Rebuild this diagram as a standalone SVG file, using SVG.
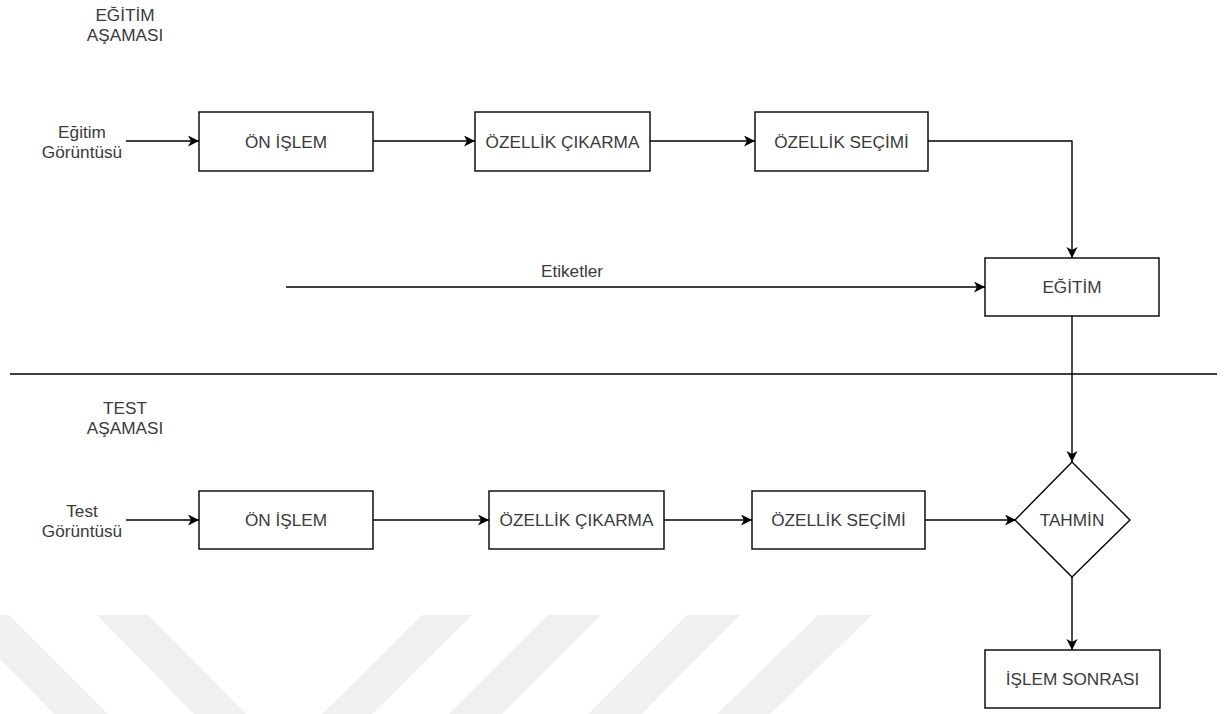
<svg xmlns="http://www.w3.org/2000/svg" width="1230" height="714" viewBox="0 0 1230 714">
<style>
text{font-family:"Liberation Sans",Arial,sans-serif;font-size:17.2px;fill:#3a3a3a;text-anchor:middle}
.box{fill:#fff;stroke:#000;stroke-width:1.4}
.ln{fill:none;stroke:#000;stroke-width:1.4}
.wm{fill:#f0f0f0;stroke:none}
</style>
<defs>
<marker id="arr" markerUnits="userSpaceOnUse" markerWidth="12" markerHeight="12" refX="11" refY="5.5" orient="auto">
<path d="M0,0 L11,5.5 L0,11 L3,5.5 Z" fill="#000"/>
</marker>
</defs>
<rect width="1230" height="714" fill="#fff"/>
<g id="watermark">
<polygon class="wm" points="-44,615 9,615 108,714 54,714"/>
<polygon class="wm" points="97,615 148,615 246,714 194,714"/>
<polygon class="wm" points="422,615 472,615 372,714 322,714"/>
<polygon class="wm" points="548,615 601,615 502,714 449,714"/>
<polygon class="wm" points="687,615 740,615 642,714 588,714"/>
<polygon class="wm" points="818,615 872,615 770,714 717,714"/>
</g>
<g id="connectors">
<line class="ln" x1="126" y1="141" x2="199" y2="141" marker-end="url(#arr)"/>
<line class="ln" x1="373" y1="141" x2="475" y2="141" marker-end="url(#arr)"/>
<line class="ln" x1="650" y1="141" x2="755" y2="141" marker-end="url(#arr)"/>
<polyline class="ln" points="928,141 1072,141 1072,258" marker-end="url(#arr)"/>
<line class="ln" x1="286" y1="287" x2="985" y2="287" marker-end="url(#arr)"/>
<line class="ln" x1="1072" y1="316" x2="1072" y2="462" marker-end="url(#arr)"/>
<line class="ln" x1="126" y1="520" x2="199" y2="520" marker-end="url(#arr)"/>
<line class="ln" x1="373" y1="520" x2="489" y2="520" marker-end="url(#arr)"/>
<line class="ln" x1="664" y1="520" x2="752" y2="520" marker-end="url(#arr)"/>
<line class="ln" x1="925" y1="520" x2="1016" y2="520" marker-end="url(#arr)"/>
<line class="ln" x1="1072" y1="577" x2="1072" y2="650" marker-end="url(#arr)"/>
</g>
<g id="separator">
<line class="ln" x1="10" y1="374" x2="1217" y2="374"/>
</g>
<g id="label-egitim-asamasi">
<text x="125" y="21">EĞİTİM</text>
<text x="125" y="41">AŞAMASI</text>
</g>
<g id="label-test-asamasi">
<text x="125" y="414">TEST</text>
<text x="125" y="434">AŞAMASI</text>
</g>
<g id="label-egitim-goruntusu">
<text x="82" y="138">Eğitim</text>
<text x="82" y="158">Görüntüsü</text>
</g>
<g id="label-test-goruntusu">
<text x="82" y="517">Test</text>
<text x="82" y="537">Görüntüsü</text>
</g>
<g id="label-etiketler">
<text x="572" y="277">Etiketler</text>
</g>
<g id="t-on-islem">
<rect class="box" x="199" y="112" width="174" height="59"/>
<text x="286" y="147.5">ÖN İŞLEM</text>
</g>
<g id="t-ozellik-cikarma">
<rect class="box" x="475" y="112" width="175" height="59"/>
<text x="562.5" y="147.5">ÖZELLİK ÇIKARMA</text>
</g>
<g id="t-ozellik-secimi">
<rect class="box" x="755" y="112" width="173" height="59"/>
<text x="841.5" y="147.5">ÖZELLİK SEÇİMİ</text>
</g>
<g id="egitim">
<rect class="box" x="985" y="258" width="174" height="58"/>
<text x="1072" y="293">EĞİTİM</text>
</g>
<g id="s-on-islem">
<rect class="box" x="199" y="491" width="174" height="58"/>
<text x="286" y="526">ÖN İŞLEM</text>
</g>
<g id="s-ozellik-cikarma">
<rect class="box" x="489" y="491" width="175" height="58"/>
<text x="576.5" y="526">ÖZELLİK ÇIKARMA</text>
</g>
<g id="s-ozellik-secimi">
<rect class="box" x="752" y="491" width="173" height="58"/>
<text x="838.5" y="526">ÖZELLİK SEÇİMİ</text>
</g>
<g id="tahmin">
<polygon class="box" points="1072,462 1130,520 1072,577 1015,520"/>
<text x="1072" y="526">TAHMİN</text>
</g>
<g id="islem-sonrasi">
<rect class="box" x="985" y="650" width="175" height="58"/>
<text x="1072.5" y="685">İŞLEM SONRASI</text>
</g>
</svg>
